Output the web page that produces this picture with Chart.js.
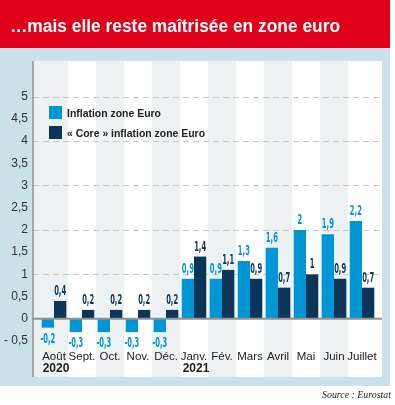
<!DOCTYPE html>
<html><head><meta charset="utf-8">
<script src="https://cdn.jsdelivr.net/npm/chart.js@4"></script>
<style>html,body{margin:0;padding:0;background:#fff}#wrap{position:relative;width:395px;height:405px}canvas{display:block}</style>
</head><body><div id="wrap"><canvas id="c" width="395" height="405"></canvas></div>
<script>
const categories = ['Août','Sept.','Oct.','Nov.','Déc.','Janv.','Fév.','Mars','Avril','Mai','Juin','Juillet'];
const years = ['2020','','','','','2021','','','','','',''];
const inflation = [-0.2,-0.3,-0.3,-0.3,-0.3,0.9,0.9,1.3,1.6,2.0,1.9,2.2];
const coreInflation = [0.4,0.2,0.2,0.2,0.2,1.4,1.1,0.9,0.7,1.0,0.9,0.7];
const yTicks = [-0.5,0,0.5,1,1.5,2,2.5,3,3.5,4,4.5,5];
const gridValues = [1,2,3,4,5];
const seriesNames = ['Inflation zone Euro','« Core » inflation zone Euro'];
const titleText = '…mais elle reste maîtrisée en zone euro';
const sourceText = 'Source : Eurostat';

const COL_LIGHT = '#0096d6';
const COL_DARK = '#0b3658';
const FONT_SANS = '"Liberation Sans", Arial, sans-serif';
const FONT_COND = '"DejaVu Sans Condensed", "Liberation Sans Narrow", sans-serif';
const fmt = v => String(v).replace('.', ',');

function fitText(ctx, text, x, y, targetW, align) {
  const w = ctx.measureText(text).width;
  const k = targetW / w;
  ctx.save();
  ctx.translate(x, y);
  ctx.scale(k, 1);
  ctx.textAlign = align;
  ctx.fillText(text, 0, 0);
  ctx.restore();
}

const L = 33, R = 382, T = 61, B = 377;

const deco = {
  id: 'deco',
  beforeDraw(chart) {
    const ctx = chart.ctx, xs = chart.scales.x, ys = chart.scales.y;
    ctx.save();
    ctx.fillStyle = '#fff'; ctx.fillRect(0, 0, 395, 405);
    ctx.fillStyle = '#e1001a'; ctx.fillRect(0, 0, 390, 48);
    ctx.fillStyle = '#c9e1e8'; ctx.fillRect(0, 48, 390, 338);
    ctx.fillStyle = '#fff'; ctx.fillRect(L, T, R - L, B - T);
    const half = (xs.getPixelForValue(1) - xs.getPixelForValue(0)) / 2;
    ctx.fillStyle = '#edf1f2';
    categories.forEach((c, i) => {
      if (i % 2) return;
      let a = xs.getPixelForValue(i) - half, b = xs.getPixelForValue(i) + half;
      if (i === 0) a = L;
      if (i === categories.length - 1) b = R;
      ctx.fillRect(a, T, b - a, B - T);
    });
    ctx.strokeStyle = '#c3cbcc'; ctx.lineWidth = 1; ctx.setLineDash([6, 4]);
    gridValues.forEach(v => {
      const y = Math.round(ys.getPixelForValue(v)) + 0.5;
      ctx.beginPath(); ctx.moveTo(L, y); ctx.lineTo(R, y); ctx.stroke();
    });
    ctx.setLineDash([]);
    ctx.fillStyle = '#fff'; ctx.font = 'bold 18px ' + FONT_SANS; ctx.textBaseline = 'alphabetic';
    fitText(ctx, titleText, 10, 32, 330, 'left');
    ctx.fillStyle = '#222'; ctx.font = 'italic 11px "Liberation Serif", serif';
    fitText(ctx, sourceText, 391, 398, 69, 'right');
    ctx.restore();
  },
  afterDatasetsDraw(chart) {
    const ctx = chart.ctx, xs = chart.scales.x, ys = chart.scales.y;
    ctx.save();
    const y0 = ys.getPixelForValue(0);
    ctx.strokeStyle = '#8d9297';
    ctx.lineWidth = 2;
    ctx.beginPath(); ctx.moveTo(L, y0); ctx.lineTo(R, y0); ctx.stroke();
    ctx.lineWidth = 1.5;
    ctx.beginPath(); ctx.moveTo(L, T); ctx.lineTo(L, B); ctx.stroke();
    // value labels
    ctx.font = 'bold 14px ' + FONT_COND;
    ctx.textBaseline = 'alphabetic';
    const k = 12 / ctx.measureText('0,9').width;
    chart.data.datasets.forEach((ds, di) => {
      const meta = chart.getDatasetMeta(di);
      ctx.fillStyle = ds.backgroundColor;
      meta.data.forEach((bar, i) => {
        const v = ds.data[i];
        const yy = v >= 0 ? bar.y - 6 : bar.y + 15;
        ctx.save();
        ctx.translate(bar.x, yy);
        ctx.scale(k, 1);
        ctx.textAlign = 'center';
        ctx.fillText(fmt(v), 0, 0);
        ctx.restore();
      });
    });
    // years
    ctx.fillStyle = '#222';
    ctx.font = 'bold 12px ' + FONT_SANS;
    ctx.textAlign = 'center';
    years.forEach((yv, i) => {
      if (!yv) return;
      ctx.fillText(yv, xs.getPixelForValue(i) + 2, 372);
    });
    // legend
    const lx = 49, ly = [106, 126], tw = [94, 138];
    ctx.font = 'bold 11.5px ' + FONT_SANS;
    chart.data.datasets.forEach((ds, di) => {
      ctx.fillStyle = ds.backgroundColor;
      ctx.fillRect(lx, ly[di], 13, 13);
      ctx.fillStyle = '#222';
      fitText(ctx, ds.label, 67, ly[di] + 11, tw[di], 'left');
    });
    ctx.restore();
  }
};

new Chart(document.getElementById('c'), {
  type: 'bar',
  data: {
    labels: categories,
    datasets: [
      { label: seriesNames[0], data: inflation, backgroundColor: COL_LIGHT, categoryPercentage: 0.88, barPercentage: 1 },
      { label: seriesNames[1], data: coreInflation, backgroundColor: COL_DARK, categoryPercentage: 0.88, barPercentage: 1 }
    ]
  },
  options: {
    responsive: false,
    animation: false,
    devicePixelRatio: 1,
    layout: { padding: { top: 61, right: 19, left: 0, bottom: 0 } },
    plugins: { legend: { display: false }, tooltip: { enabled: false } },
    scales: {
      x: {
        grid: { display: false, drawTicks: false },
        border: { display: false },
        ticks: { color: '#222', font: { family: FONT_SANS, size: 11.5 }, padding: 9, maxRotation: 0, autoSkip: false },
        afterFit(s) { s.height = 64; }
      },
      y: {
        min: -0.5, max: 5.8,
        grid: { display: false, drawTicks: false },
        border: { display: false },
        afterBuildTicks(s) { s.ticks = yTicks.map(v => ({ value: v })); },
        ticks: {
          color: '#333', font: { family: FONT_SANS, size: 12 }, padding: 12,
          callback: v => (v < 0 ? '- ' + fmt(-v) : fmt(v))
        },
        afterFit(s) { s.width = 40; }
      }
    }
  },
  plugins: [deco]
});
</script>
</body></html>
